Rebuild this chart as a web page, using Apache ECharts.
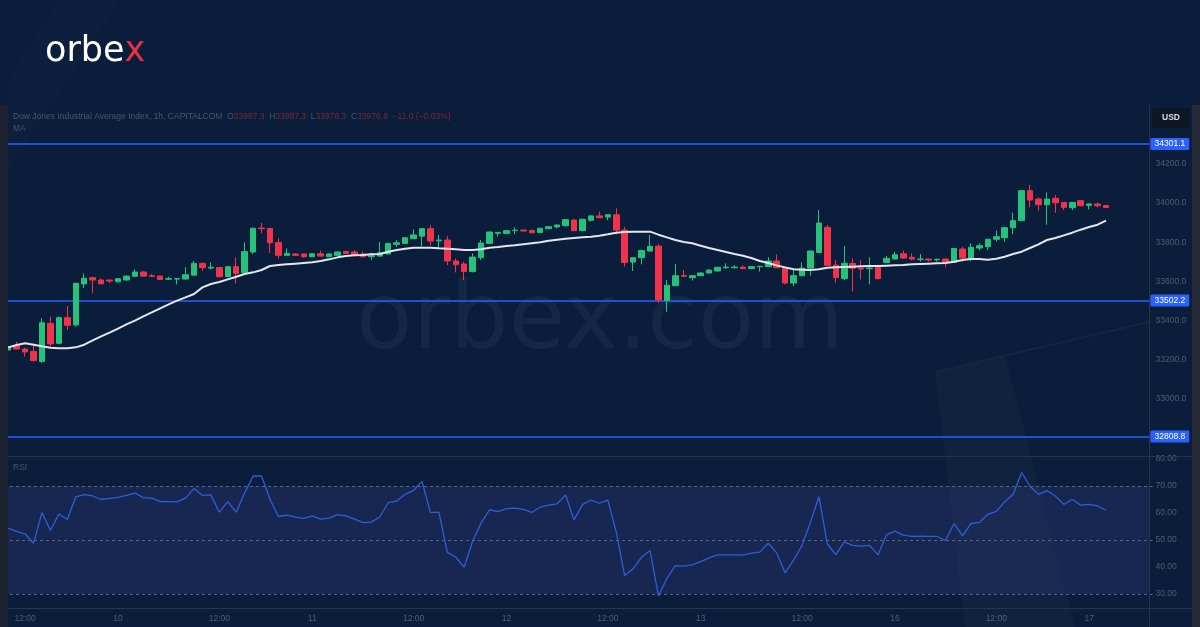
<!DOCTYPE html>
<html><head><meta charset="utf-8">
<script src="https://cdn.jsdelivr.net/npm/echarts@6/dist/echarts.min.js"></script>
<style>html,body{margin:0;padding:0;background:#0b1d3a;}#c{width:1200px;height:627px;}</style>
</head><body><div id="c"></div>
<script>
// ---- time axis: trading sessions [day label, first hour, last hour]
const sessions = [['9',10,22],['10',0,22],['11',0,22],['12',0,22],['13',0,22],['16',0,22],['17',0,2]];
const padSlots = 5;

// ---- price OHLC (1h candles)
const opens = [
33250,33272,33255,33242,33191,33386,33284,33415,33378,33587,
33619,33607,33607,33598,33607,33626,33648,33629,33627,33611,
33612,33612,33632,33692,33668,33671,33624,33675,33644,33750,
33872,33870,33799,33733,33740,33740,33726,33741,33726,33733,
33753,33750,33740,33726,33729,33740,33789,33794,33818,33831,
33869,33807,33811,33704,33689,33650,33721,33794,33845,33845,
33859,33862,33860,33850,33869,33878,33884,33913,33859,33912,
33934,33928,33940,33862,33699,33721,33755,33780,33502,33578,
33630,33619,33629,33643,33653,33670,33670,33672,33666,33675,
33675,33704,33670,33592,33629,33668,33747,33876,33683,33614,
33692,33667,33665,33672,33696,33714,33741,33723,33712,33714,
33710,33714,33697,33765,33716,33770,33777,33815,33823,33874,
33910,34063,34020,33991,34024,34003,33976,34012,33988,33995,
33987.3];
const closes = [
33267,33255,33240,33196,33389,33281,33415,33376,33590,33616,
33607,33588,33602,33614,33627,33648,33627,33626,33610,33614,
33614,33634,33692,33670,33672,33624,33675,33641,33752,33871,
33869,33797,33733,33743,33733,33726,33741,33729,33740,33750,
33743,33736,33726,33731,33746,33794,33797,33823,33837,33869,
33806,33811,33704,33685,33650,33724,33796,33852,33850,33859,
33861,33857,33848,33871,33879,33888,33915,33859,33917,33934,
33925,33940,33862,33697,33721,33758,33779,33505,33580,33629,
33626,33629,33643,33658,33672,33673,33673,33665,33675,33677,
33704,33670,33592,33629,33668,33755,33898,33682,33619,33692,
33667,33663,33668,33614,33718,33736,33719,33714,33714,33709,
33713,33696,33768,33719,33774,33782,33815,33828,33874,33910,
34063,34015,33991,34020,34001,33978,34003,33986,33995,33986,
33976.8];
const highs = [
33304,33292,33262,33284,33412,33420,33420,33474,33594,33641,
33624,33615,33610,33617,33630,33661,33652,33638,33630,33624,
33616,33672,33704,33695,33697,33673,33678,33723,33799,33874,
33899,33873,33820,33768,33743,33742,33744,33757,33743,33753,
33756,33760,33752,33746,33801,33797,33811,33826,33865,33872,
33887,33837,33831,33717,33700,33743,33811,33855,33852,33862,
33876,33865,33865,33874,33882,33890,33918,33916,33920,33937,
33956,33943,33973,33879,33724,33761,33837,33790,33607,33689,
33658,33631,33646,33661,33675,33692,33682,33682,33678,33679,
33723,33738,33673,33658,33697,33758,33964,33888,33709,33780,
33717,33709,33723,33675,33730,33750,33757,33743,33740,33716,
33715,33716,33771,33777,33794,33794,33818,33859,33879,33950,
34066,34092,34029,34054,34041,34005,34005,34015,33998,34003,
33987.3];
const lows = [
33242,33253,33216,33190,33185,33267,33280,33352,33369,33565,
33539,33586,33593,33596,33604,33624,33625,33624,33608,33607,
33585,33610,33630,33653,33661,33620,33621,33590,33640,33740,
33845,33746,33716,33729,33731,33721,33724,33727,33724,33731,
33741,33734,33723,33709,33727,33738,33777,33792,33816,33777,
33784,33765,33683,33646,33607,33646,33709,33792,33828,33843,
33840,33855,33846,33848,33867,33871,33882,33856,33856,33905,
33923,33913,33840,33675,33653,33687,33753,33490,33445,33576,
33622,33604,33627,33641,33651,33663,33665,33663,33664,33650,
33673,33668,33585,33576,33627,33629,33745,33679,33594,33607,
33548,33610,33585,33611,33694,33712,33717,33709,33701,33701,
33701,33672,33694,33701,33702,33760,33760,33803,33803,33840,
33907,33978,33961,33889,33950,33964,33964,33984,33967,33978,
33976.3];

// ---- moving average (white line)
const maValues = [
33263.5,33275.5,33284,33277,33268.7,33261.8,33258.4,33258.4,33263.5,33277,
33299.3,33319.7,33338.4,33358.8,33380.9,33399.6,33421.7,33442.1,33462.5,33482.9,
33501.6,33518.7,33535.7,33569.7,33586.7,33596.9,33610.5,33624.1,33637.7,33646.2,
33658.1,33678.5,33683.6,33687,33690.4,33693.8,33697.2,33704,33712.5,33722.7,
33729.5,33732.9,33734.6,33738,33739.7,33751.6,33760.2,33767,33772.1,33772.1,
33772.1,33768.7,33767,33763.6,33760.2,33760.2,33763.6,33772.1,33775.5,33780.6,
33784,33789.1,33794.2,33799.3,33807.8,33812.9,33818,33821.4,33824.8,33828.2,
33833.3,33840.1,33848.6,33852,33853.7,33853.7,33853.7,33838.4,33824.8,33811.2,
33801,33794.2,33782.3,33770.4,33760.2,33749.9,33739.7,33731.2,33719.3,33704,
33693.8,33681.9,33671.7,33661.5,33659.8,33658.1,33661.5,33670,33671.7,33673.4,
33675.1,33676.8,33678.5,33678.5,33680.2,33681.9,33683.6,33687,33688.7,33690.4,
33692.1,33693.8,33700.6,33709.1,33714.2,33714.2,33710.8,33715.9,33726.1,33739.7,
33751.6,33770.4,33789.1,33811.2,33821.4,33835,33848.6,33863.9,33877.5,33889.4,
33909.8];

// ---- RSI
const rsiValues = [
54.3,53.2,52.2,48.8,60.2,53.5,59.6,57.6,66.0,66.8,
66.3,65.0,65.4,65.8,66.5,67.4,65.7,65.5,64.2,64.2,
64.1,65.5,69.1,66.5,66.7,60.3,64.2,60.3,67.4,73.7,
73.7,65.0,58.7,59.2,58.5,58.0,58.9,57.7,58.1,59.4,
58.9,57.7,56.4,56.6,58.5,63.8,64.4,66.9,68.4,71.7,
60.1,60.3,45.4,43.6,39.9,49.6,56.3,61.2,60.5,61.6,
61.8,61.3,60.2,62.2,62.9,63.4,66.7,57.4,63.1,64.8,
63.6,64.8,52.9,36.8,39.3,43.6,46.1,29.3,35.8,40.5,
40.3,40.8,42.0,43.4,44.5,44.5,44.5,44.4,45.1,45.5,
48.8,45.2,37.8,42.5,48.0,56.6,66.0,48.5,44.6,49.3,
48.0,47.7,48.0,44.5,51.9,53.3,51.8,51.3,51.4,51.3,
51.3,49.8,56.1,51.5,56.1,56.5,59.5,60.6,64.1,66.9,
75.0,69.9,66.9,68.3,66.3,63.2,65.0,62.9,63.2,62.6,
61.0];

// ---- horizontal levels & ticks
const levels = [34301.1, 33502.2, 32808.8];
const priceTicks = [33000, 33200, 33400, 33600, 33800, 34000, 34200];
const rsiTicks = [30, 40, 50, 60, 70, 80];
const rsiBands = [70, 50, 30];
const header = {name:'Dow Jones Industrial Average Index, 1h, CAPITALCOM', o:'33987.3', h:'33987.3', l:'33976.3', c:'33976.8', chg:'\u221211.0 (\u22120.03%)'};

// ---- build
const categories = [];
sessions.forEach(([d,h0,h1]) => { for (let h=h0; h<=h1; h++) categories.push(d + ' ' + String(h).padStart(2,'0') + ':00'); });
for (let k=1;k<=padSlots;k++) categories.push('+' + k);
const candleData = opens.map((o,i)=>[o, closes[i], lows[i], highs[i]]);
function timeLabel(v){ const m = String(v).split(' '); if(m.length<2) return ''; if(m[1]==='00:00') return m[0]; if(m[1]==='12:00') return '12:00'; return ''; }

const BG = '#0a1d3a';
const LINE = '#2a3448';
const AXTXT = '#525c70';
const FONT = '"Liberation Sans", Arial, sans-serif';

const chart = echarts.init(document.getElementById('c'));
const option = {
  backgroundColor: BG,
  animation: false,
  textStyle: {fontFamily: FONT},
  grid: [
    {left:4, top:105, width:1148.5, height:350},
    {left:4, top:457, width:1148.5, height:151}
  ],
  xAxis: [
    {type:'category', gridIndex:0, data:categories, boundaryGap:true,
     axisLine:{show:false}, axisTick:{show:false}, axisLabel:{show:false}, splitLine:{show:false}},
    {type:'category', gridIndex:1, data:categories, boundaryGap:true,
     axisLine:{show:false}, axisTick:{show:false}, splitLine:{show:false},
     axisLabel:{show:true, interval:0, formatter:timeLabel, color:AXTXT, fontSize:8.5, margin:6, fontFamily:FONT}}
  ],
  yAxis: [
    {type:'value', gridIndex:0, position:'right', min:32714.3, max:34500, z:10,
     axisLine:{show:false}, axisTick:{show:false}, splitLine:{show:false},
     axisLabel:{customValues:priceTicks, formatter:v=>Number(v).toFixed(1), color:AXTXT, fontSize:8.5, margin:3, fontFamily:FONT}},
    {type:'value', gridIndex:1, position:'right', min:24.8, max:80.74, z:10,
     axisLine:{show:false}, axisTick:{show:false}, splitLine:{show:false},
     axisLabel:{customValues:rsiTicks, formatter:v=>Number(v).toFixed(2), color:AXTXT, fontSize:8.5, margin:3, fontFamily:FONT}}
  ],
  series: [
    {type:'candlestick', xAxisIndex:0, yAxisIndex:0, data:candleData, barWidth:6, z:6,
     itemStyle:{color:'#26c27a', color0:'#f0334a', borderColor:'#26c27a', borderColor0:'#f0334a', borderWidth:1},
     markLine:{silent:true, symbol:['none','none'], animation:false,
       lineStyle:{color:'#2962ff', width:1.5, type:'solid'},
       label:{show:true, position:'end', distance:-2, formatter:p=>Number(p.value).toFixed(1),
              backgroundColor:'#2962ff', color:'#ffffff', fontSize:8.5, padding:[2,4,1,4], borderRadius:1, fontFamily:FONT},
       data: levels.map(v=>({yAxis:v}))}},
    {type:'line', xAxisIndex:0, yAxisIndex:0, data:maValues, symbol:'none', z:7,
     lineStyle:{color:'#e4e6ec', width:2}},
    {type:'line', xAxisIndex:1, yAxisIndex:1, data:rsiValues, symbol:'none', z:4,
     lineStyle:{color:'#2c5fd6', width:1.3},
     markArea:{silent:true, itemStyle:{color:'rgba(52,60,125,0.34)'}, data:[[{yAxis:30},{yAxis:70}]]},
     markLine:{silent:true, symbol:['none','none'], label:{show:false},
       lineStyle:{color:'#5a6378', width:1, type:[3,3]}, data: rsiBands.map(v=>({yAxis:v}))}}
  ],
  graphic: [
    // watermark
    {type:'text', z:1, silent:true, x:600, y:370,
     style:{text:'orbex.com', fill:'rgba(150,170,210,0.075)', font:'92px "DejaVu Sans", sans-serif', textAlign:'center', textVerticalAlign:'bottom'}},
    // decorative faint shapes
    {type:'polygon', z:1, silent:true, shape:{points:[[935,372],[1005,356],[1075,627],[965,627]]}, style:{fill:'rgba(255,255,255,0.025)'}},
    {type:'polyline', z:1, silent:true, shape:{points:[[935,372],[1149,322]]}, style:{stroke:'rgba(255,255,255,0.04)', lineWidth:2}},
    {type:'polygon', z:1, silent:true, shape:{points:[[60,0],[120,0],[8,170],[8,80]]}, style:{fill:'rgba(255,255,255,0.012)'}},
    // axis area cover
    {type:'rect', z:5, silent:true, shape:{x:1149.5, y:105, width:43, height:522}, style:{fill:BG}},
    // side strips
    {type:'rect', z:20, silent:true, shape:{x:0, y:105, width:8, height:522}, style:{fill:'#1c2230'}},
    {type:'rect', z:20, silent:true, shape:{x:1192, y:105, width:8, height:522}, style:{fill:'#262b37'}},
    // separators
    {type:'line', z:21, silent:true, shape:{x1:8, y1:456.5, x2:1192, y2:456.5}, style:{stroke:LINE, lineWidth:1}},
    {type:'line', z:21, silent:true, shape:{x1:8, y1:608.5, x2:1192, y2:608.5}, style:{stroke:LINE, lineWidth:1}},
    {type:'line', z:21, silent:true, shape:{x1:1149.5, y1:105, x2:1149.5, y2:627}, style:{stroke:LINE, lineWidth:1}},
    // USD box
    {type:'rect', z:22, silent:true, shape:{x:1152, y:108, width:38, height:20, r:3}, style:{fill:'#0e1524'}},
    {type:'text', z:23, silent:true, x:1171, y:118,
     style:{text:'USD', fill:'#d9dce3', font:'bold 8.5px "Liberation Sans", sans-serif', textAlign:'center', textVerticalAlign:'middle'}},
    // header
    {type:'text', z:22, silent:true, x:13, y:117,
     style:{text:'{g|'+header.name+'}  {g|O}{r|'+header.o+'}  {g|H}{r|'+header.h+'}  {g|L}{r|'+header.l+'}  {g|C}{r|'+header.c+'}  {r|'+header.chg+'}',
            textVerticalAlign:'middle', font:'8.5px "Liberation Sans", sans-serif',
            rich:{g:{fill:'#4c566a', font:'8.5px "Liberation Sans", sans-serif'}, r:{fill:'#7a2a37', font:'8.5px "Liberation Sans", sans-serif'}}}},
    {type:'text', z:22, silent:true, x:13, y:129,
     style:{text:'MA', fill:'#4c566a', font:'8.5px "Liberation Sans", sans-serif', textVerticalAlign:'middle'}},
    {type:'text', z:22, silent:true, x:13, y:468,
     style:{text:'RSI', fill:'#4c566a', font:'8.5px "Liberation Sans", sans-serif', textVerticalAlign:'middle'}},
    // logo
    {type:'text', z:22, silent:true, x:45, y:69,
     style:{text:'{a|orbe}{b|x}', textVerticalAlign:'bottom',
            rich:{a:{fill:'#ffffff', font:'400 35px "DejaVu Sans", sans-serif'}, b:{fill:'#e8303e', font:'400 35px "DejaVu Sans", sans-serif'}}}}
  ]
};
chart.setOption(option);
</script>
</body></html>
